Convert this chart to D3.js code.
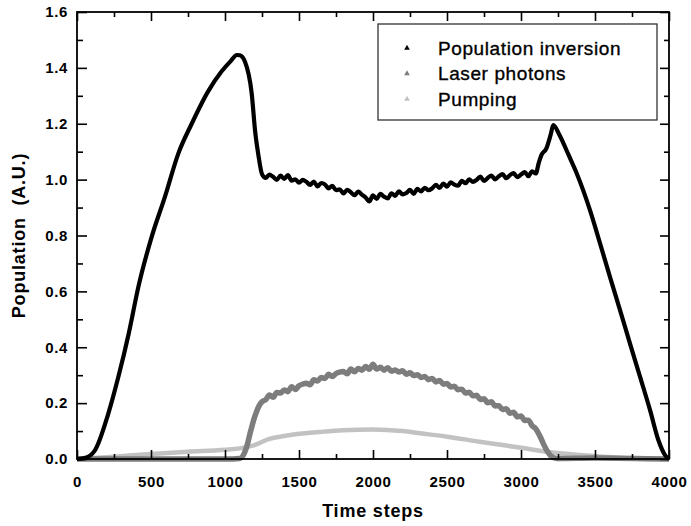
<!DOCTYPE html>
<html>
<head>
<meta charset="utf-8">
<script src="https://cdn.jsdelivr.net/npm/d3@7"></script>
<style>
  body { margin: 0; background: #fff; }
  text { font-family: "Liberation Sans", Arial, sans-serif; }
</style>
</head>
<body>
<svg id="chart" width="691" height="526"></svg>
<script>
// axis ticks
const xTicks = [0, 500, 1000, 1500, 2000, 2500, 3000, 3500, 4000];
const xMinorTicks = [250, 750, 1250, 1750, 2250, 2750, 3250, 3750];
const yTicks = [0, 0.2, 0.4, 0.6, 0.8, 1.0, 1.2, 1.4, 1.6];
const yMinorTicks = [0.1, 0.3, 0.5, 0.7, 0.9, 1.1, 1.3, 1.5];

const seriesNames = ["Population inversion", "Laser photons", "Pumping"];
const seriesColors = ["#000000", "#7d7d7d", "#c2c2c2"];

// [time step, population]
const inversion = [
  [0, 0], [50, 0.003], [120, 0.03], [210, 0.16], [280, 0.295], [350, 0.45], [415, 0.617],
  [505, 0.796], [595, 0.94], [685, 1.094], [775, 1.2], [885, 1.315], [975, 1.386],
  [1040, 1.425], [1080, 1.446], [1100, 1.445], [1135, 1.422], [1180, 1.31], [1205, 1.166],
  [1225, 1.09], [1250, 1.02], [1275, 1.006], [1300, 1.018], [1325, 1.01], [1350, 0.999],
  [1375, 1.014], [1400, 1.003], [1425, 1.016], [1450, 0.996], [1475, 1.001], [1500, 0.989],
  [1525, 0.999], [1550, 0.992], [1575, 0.981], [1600, 0.993], [1625, 0.976], [1650, 0.988],
  [1675, 0.983], [1700, 0.969], [1725, 0.978], [1750, 0.962], [1775, 0.965], [1800, 0.951],
  [1825, 0.963], [1850, 0.955], [1875, 0.944], [1900, 0.957], [1925, 0.946], [1950, 0.936],
  [1975, 0.922], [2000, 0.944], [2025, 0.931], [2050, 0.949], [2075, 0.939], [2100, 0.933],
  [2125, 0.951], [2150, 0.942], [2175, 0.958], [2200, 0.947], [2225, 0.952], [2250, 0.963],
  [2275, 0.949], [2300, 0.967], [2325, 0.958], [2350, 0.971], [2375, 0.962], [2400, 0.969],
  [2425, 0.981], [2450, 0.97], [2475, 0.986], [2500, 0.975], [2525, 0.99], [2550, 0.982],
  [2575, 0.978], [2600, 0.996], [2625, 0.987], [2650, 1.001], [2675, 0.992], [2700, 0.999],
  [2725, 1.011], [2750, 0.995], [2775, 1.006], [2800, 1.014], [2825, 1.001], [2850, 1.012],
  [2875, 1.02], [2900, 1.005], [2925, 1.016], [2950, 1.023], [2975, 1.009], [3000, 1.018],
  [3025, 1.027], [3050, 1.012], [3075, 1.03], [3100, 1.022], [3120, 1.06], [3140, 1.09],
  [3170, 1.11], [3200, 1.16], [3218, 1.195], [3260, 1.16], [3320, 1.09], [3376, 1.023],
  [3466, 0.891], [3534, 0.772], [3601, 0.652], [3669, 0.533], [3736, 0.414], [3804, 0.295],
  [3872, 0.175], [3928, 0.068], [3973, 0.014], [4000, 0]
];

const photons = [
  [0, 0], [1000, 0], [1100, 0.002], [1130, 0.02], [1150, 0.05], [1170, 0.093], [1200, 0.15],
  [1230, 0.19], [1250, 0.205], [1275, 0.212], [1300, 0.229], [1325, 0.221], [1350, 0.238],
  [1375, 0.236], [1400, 0.247], [1425, 0.241], [1450, 0.259], [1475, 0.249], [1500, 0.262],
  [1525, 0.268], [1550, 0.271], [1575, 0.266], [1600, 0.284], [1625, 0.279], [1650, 0.292],
  [1675, 0.288], [1700, 0.303], [1725, 0.295], [1750, 0.306], [1775, 0.311], [1800, 0.313],
  [1825, 0.305], [1850, 0.322], [1875, 0.312], [1900, 0.324], [1925, 0.318], [1950, 0.331],
  [1975, 0.321], [2000, 0.339], [2025, 0.322], [2050, 0.328], [2075, 0.318], [2100, 0.327],
  [2125, 0.314], [2150, 0.319], [2175, 0.311], [2200, 0.316], [2225, 0.303], [2250, 0.309],
  [2275, 0.299], [2300, 0.302], [2325, 0.292], [2350, 0.295], [2375, 0.284], [2400, 0.288],
  [2425, 0.276], [2450, 0.281], [2475, 0.268], [2500, 0.27], [2525, 0.258], [2550, 0.26],
  [2575, 0.248], [2600, 0.25], [2625, 0.236], [2650, 0.239], [2675, 0.226], [2700, 0.228],
  [2725, 0.213], [2750, 0.216], [2775, 0.201], [2800, 0.205], [2825, 0.19], [2850, 0.191],
  [2875, 0.177], [2900, 0.18], [2925, 0.164], [2950, 0.167], [2975, 0.151], [3000, 0.154],
  [3025, 0.138], [3050, 0.139], [3075, 0.119], [3100, 0.108], [3125, 0.085], [3150, 0.056],
  [3175, 0.03], [3200, 0.012], [3240, 0.002], [3500, 0.004], [4000, 0]
];

const pumping = [
  [0, 0], [250, 0.008], [500, 0.018], [750, 0.026], [1000, 0.033], [1100, 0.038],
  [1200, 0.05], [1300, 0.072], [1400, 0.082], [1500, 0.09], [1664, 0.098], [1800, 0.103],
  [2000, 0.106], [2200, 0.1], [2320, 0.092], [2500, 0.08], [2720, 0.062], [2900, 0.048],
  [3000, 0.04], [3170, 0.026], [3400, 0.014], [3620, 0.006], [3800, 0.001], [4000, 0]
];

const svg = d3.select("#chart");

const x = d3.scaleLinear().domain([0, 4000]).range([77, 669]);
const y = d3.scaleLinear().domain([0, 1.6]).range([459, 12]);

const line = d3.line().curve(d3.curveMonotoneX).x(d => x(d[0])).y(d => y(d[1]));

// curves, lightest first so black sits on top
const series = [pumping, photons, inversion];
const widths = [4.5, 5.5, 4.2];
series.forEach(function(s, i){
    svg.append("path").datum(s)
        .attr("fill", "none")
        .attr("stroke", seriesColors[2 - i])
        .attr("stroke-width", widths[i])
        .attr("stroke-linejoin", "round")
        .attr("d", line);
});

// frame with inward ticks on all four sides
function styleAxis(g){
    g.select(".domain").remove();
    g.selectAll(".tick line").attr("stroke", "#000").attr("stroke-width", 1.6);
    g.selectAll("text").attr("fill", "#000").style("font-size", "15px")
        .style("font-weight", "bold").style("letter-spacing", "0.6px");
}

svg.append("g").attr("transform", "translate(0,459)")
    .call(d3.axisBottom(x).tickValues(xTicks).tickSize(-9).tickPadding(17).tickFormat(d3.format("d")))
    .call(styleAxis);
svg.append("g").attr("transform", "translate(0,459)")
    .call(d3.axisBottom(x).tickValues(xMinorTicks).tickSize(-5).tickFormat(""))
    .call(styleAxis);
svg.append("g").attr("transform", "translate(0,12)")
    .call(d3.axisTop(x).tickValues(xTicks).tickSize(-9).tickFormat(""))
    .call(styleAxis);
svg.append("g").attr("transform", "translate(0,12)")
    .call(d3.axisTop(x).tickValues(xMinorTicks).tickSize(-5).tickFormat(""))
    .call(styleAxis);

svg.append("g").attr("transform", "translate(77,0)")
    .call(d3.axisLeft(y).tickValues(yTicks).tickSize(-10).tickPadding(9).tickFormat(d3.format(".1f")))
    .call(styleAxis);
svg.append("g").attr("transform", "translate(77,0)")
    .call(d3.axisLeft(y).tickValues(yMinorTicks).tickSize(-6).tickFormat(""))
    .call(styleAxis);
svg.append("g").attr("transform", "translate(669,0)")
    .call(d3.axisRight(y).tickValues(yTicks).tickSize(-9).tickFormat(""))
    .call(styleAxis);
svg.append("g").attr("transform", "translate(669,0)")
    .call(d3.axisRight(y).tickValues(yMinorTicks).tickSize(-5).tickFormat(""))
    .call(styleAxis);

svg.append("rect")
    .attr("x", x(0)).attr("y", y(1.6))
    .attr("width", x(4000) - x(0)).attr("height", y(0) - y(1.6))
    .attr("fill", "none").attr("stroke", "#000").attr("stroke-width", 1.8);

// axis titles
svg.append("text").attr("x", (x(0) + x(4000)) / 2).attr("y", 517)
    .attr("text-anchor", "middle").style("font-size", "18px").style("font-weight", "bold")
    .style("letter-spacing", "0.8px").text("Time steps");
svg.append("text").attr("transform", "translate(25," + (y(0) + y(1.6)) / 2 + ") rotate(-90)")
    .attr("text-anchor", "middle").style("font-size", "18px").style("font-weight", "bold")
    .style("letter-spacing", "0.8px").style("white-space", "pre").text("Population  (A.U.)");

// legend
const legend = svg.append("g");
legend.append("rect").attr("x", 378).attr("y", 24).attr("width", 279).attr("height", 96)
    .attr("fill", "#fff").attr("stroke", "#333").attr("stroke-width", 1.3);
const rows = legend.selectAll(".row").data(seriesNames).enter().append("g")
    .attr("class", "row")
    .attr("transform", (d, i) => "translate(0," + (48 + i * 25.5) + ")");
rows.append("path").attr("d", d3.symbol(d3.symbolTriangle, 14))
    .attr("transform", "translate(407,0)")
    .attr("fill", (d, i) => seriesColors[i]);
rows.append("text").attr("x", 438).attr("y", 6.5)
    .style("font-size", "19px").style("letter-spacing", "0.6px")
    .attr("fill", "#000").attr("stroke", "#000").attr("stroke-width", 0.35)
    .text(d => d);
</script>
</body>
</html>
